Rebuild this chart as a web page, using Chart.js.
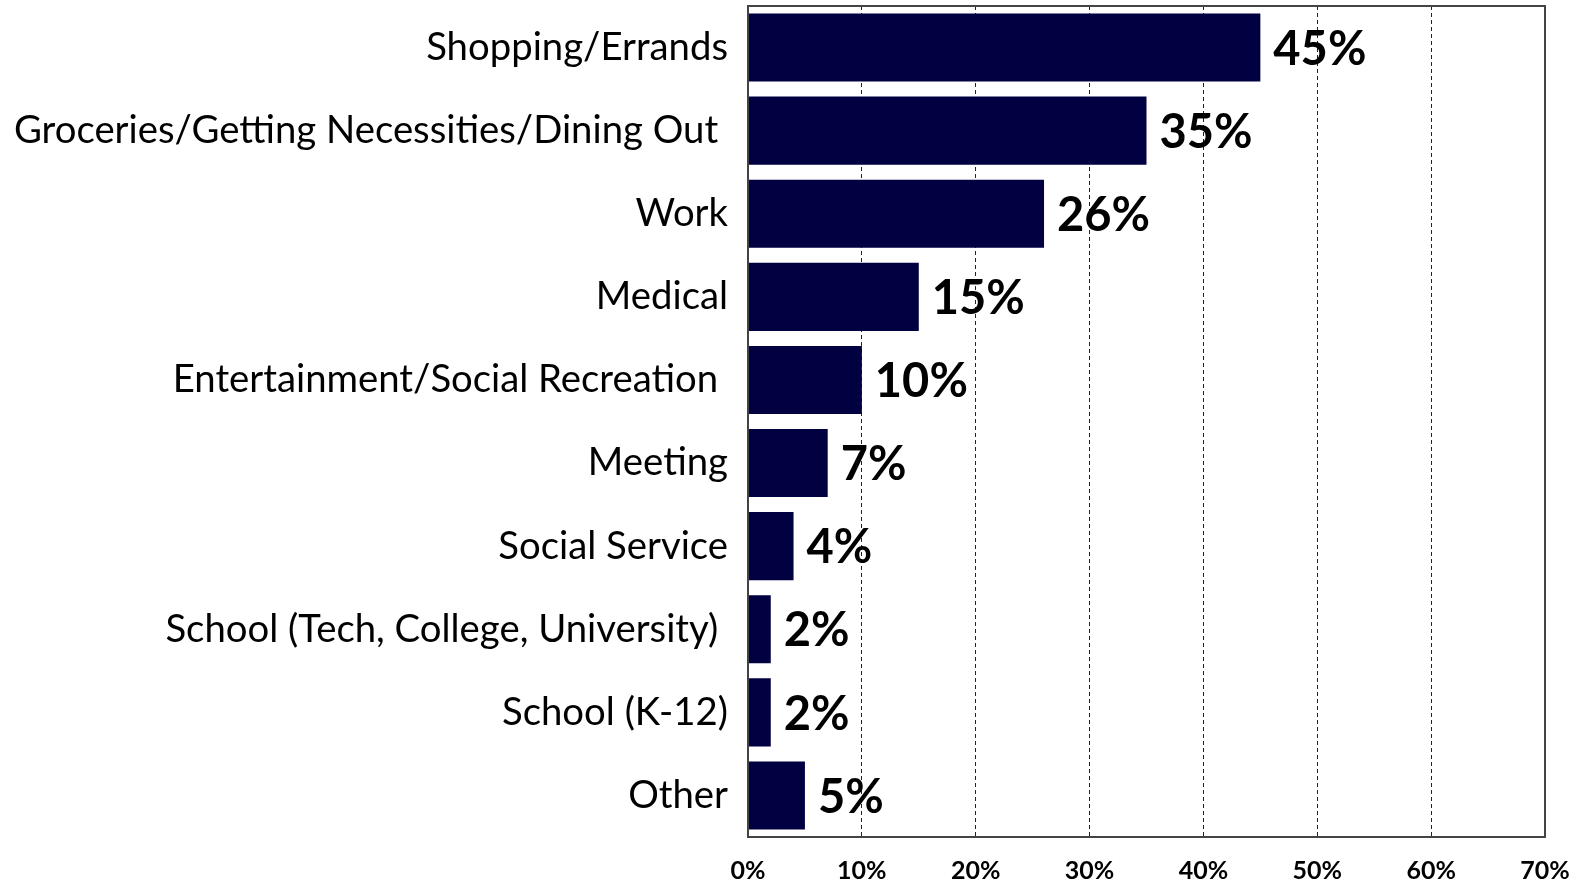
<!DOCTYPE html>
<html>
<head>
<meta charset="utf-8">
<script src="https://cdn.jsdelivr.net/npm/chart.js@4/dist/chart.umd.min.js"></script>
<style>
  html, body { margin: 0; padding: 0; background: #fff; }
  #wrap { width: 1583px; height: 884px; }
</style>
</head>
<body>
<div id="wrap"><canvas id="c" width="1583" height="884"></canvas></div>
<script>
// trip purposes, share of respondents (%)
const purposes = [
  "Shopping/Errands",
  "Groceries/Getting Necessities/Dining Out ",
  "Work",
  "Medical",
  "Entertainment/Social Recreation ",
  "Meeting",
  "Social Service",
  "School (Tech, College, University) ",
  "School (K-12)",
  "Other"
];
const shares = [45, 35, 26, 15, 10, 7, 4, 2, 2, 5];
const xTicks = [0, 10, 20, 30, 40, 50, 60, 70];

const BAR = "#010141";
const FRAME = "#444444";

// value text at the end of each bar
const valueLabels = {
  id: "valueLabels",
  afterDatasetsDraw(chart) {
    const ctx = chart.ctx;
    const meta = chart.getDatasetMeta(0);
    ctx.save();
    ctx.font = "bold 47px Lato";
    ctx.fillStyle = "#000";
    ctx.textAlign = "left";
    ctx.textBaseline = "middle";
    meta.data.forEach((bar, i) => {
      ctx.fillText(shares[i] + "%", bar.x + 13, bar.y + 2);
    });
    ctx.restore();
  }
};

// closes the plot box on top and right
const frame = {
  id: "frame",
  afterDraw(chart) {
    const { left, top, right, bottom } = chart.chartArea;
    const ctx = chart.ctx;
    ctx.save();
    ctx.strokeStyle = FRAME;
    ctx.lineWidth = 2;
    ctx.strokeRect(left, top, right - left, bottom - top);
    ctx.restore();
  }
};

new Chart(document.getElementById("c"), {
  type: "bar",
  data: {
    labels: purposes,
    datasets: [{
      data: shares,
      backgroundColor: BAR,
      borderWidth: 0,
      categoryPercentage: 1,
      barPercentage: 0.82
    }]
  },
  options: {
    indexAxis: "y",
    responsive: false,
    animation: false,
    layout: { padding: { top: 6, right: 38, left: 0, bottom: 0 } },
    plugins: { legend: { display: false }, tooltip: { enabled: false } },
    scales: {
      x: {
        min: 0,
        max: 70,
        afterBuildTicks(axis) { axis.ticks = xTicks.map(v => ({ value: v })); },
        afterFit(axis) {
          axis.height = 47;
          axis.paddingLeft = 0;
          axis.paddingRight = 0;
        },
        ticks: {
          color: "#000",
          font: { family: "Lato", size: 25, weight: "bold" },
          padding: 19,
          callback: v => v + "%"
        },
        grid: {
          color: ctx => (ctx.tick && (ctx.tick.value === 0 || ctx.tick.value === 70)) ? "rgba(0,0,0,0)" : "#222",
          lineWidth: 1,
          drawTicks: false
        },
        border: { display: true, color: FRAME, width: 2, dash: [4, 3] }
      },
      y: {
        afterFit(axis) {
          axis.width = 748;
          axis.paddingTop = 0;
          axis.paddingBottom = 0;
        },
        ticks: {
          color: "#000",
          font: { family: "Lato", size: 38.3 },
          padding: 20,
          autoSkip: false
        },
        grid: { display: false, drawTicks: false },
        border: { display: true, color: FRAME, width: 2 }
      }
    }
  },
  plugins: [valueLabels, frame]
});
</script>
</body>
</html>
